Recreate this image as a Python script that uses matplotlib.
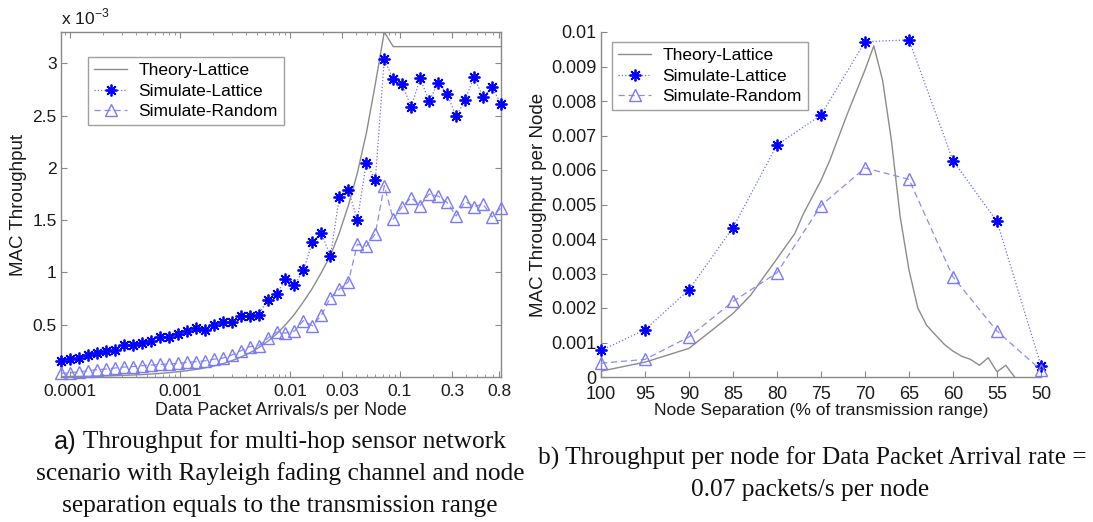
import matplotlib
matplotlib.use("Agg")
from matplotlib import pyplot as plt
from matplotlib.ticker import FixedLocator, FixedFormatter, LogLocator, NullFormatter

plt.rcParams['font.family'] = ['Liberation Sans', 'DejaVu Sans']
plt.rcParams['mathtext.fontset'] = 'custom'
plt.rcParams['mathtext.rm'] = 'Liberation Sans'

# ---- data, left panel (throughput in units of 1e-3) ----
arrival = [8.30e-5, 1.002e-4, 1.209e-4, 1.459e-4, 1.760e-4, 2.125e-4, 2.564e-4, 3.094e-4,
           3.734e-4, 4.506e-4, 5.437e-4, 6.563e-4, 7.920e-4, 9.557e-4, 1.153e-3, 1.392e-3,
           1.680e-3, 2.027e-3, 2.446e-3, 2.953e-3, 3.563e-3, 4.300e-3, 5.190e-3, 6.262e-3,
           7.557e-3, 9.120e-3, 1.1006e-2, 1.3282e-2, 1.603e-2, 1.934e-2, 2.334e-2, 2.817e-2,
           3.400e-2, 4.102e-2, 4.951e-2, 5.975e-2, 7.211e-2, 8.701e-2, 0.1050, 0.1267,
           0.1529, 0.1845, 0.2227, 0.2688, 0.3243, 0.3914, 0.4724, 0.5701, 0.6880, 0.8302]

theory_a = [0.004, 0.005, 0.006, 0.007, 0.009, 0.011, 0.013, 0.016, 0.019, 0.023,
            0.028, 0.034, 0.041, 0.050, 0.060, 0.072, 0.087, 0.105, 0.127, 0.155,
            0.19, 0.23, 0.28, 0.34, 0.41, 0.50, 0.60, 0.72, 0.85, 1.00,
            1.16, 1.38, 1.64, 1.95, 2.33, 2.80, 3.30, 3.16, 3.16, 3.16,
            3.16, 3.16, 3.16, 3.16, 3.16, 3.16, 3.16, 3.16, 3.16, 3.16]

sim_lattice_a = [0.152, 0.168, 0.184, 0.206, 0.231, 0.253, 0.263, 0.304, 0.304, 0.326,
                 0.348, 0.38, 0.38, 0.41, 0.437, 0.468, 0.446, 0.50, 0.522, 0.522,
                 0.579, 0.579, 0.595, 0.737, 0.791, 0.934, 0.88, 1.022, 1.291, 1.377,
                 1.155, 1.718, 1.788, 1.503, 2.05, 1.883, 3.038, 2.848, 2.80, 2.582,
                 2.858, 2.636, 2.816, 2.706, 2.494, 2.646, 2.873, 2.674, 2.772, 2.614]

sim_random_a = [0.035, 0.04, 0.05, 0.06, 0.07, 0.076, 0.086, 0.095, 0.10, 0.108,
                0.114, 0.12, 0.124, 0.13, 0.14, 0.146, 0.155, 0.17, 0.18, 0.21,
                0.25, 0.29, 0.30, 0.37, 0.43, 0.42, 0.44, 0.54, 0.49, 0.59,
                0.76, 0.84, 0.91, 1.27, 1.25, 1.37, 1.83, 1.51, 1.63, 1.715,
                1.64, 1.75, 1.73, 1.67, 1.54, 1.68, 1.63, 1.655, 1.53, 1.62]

x_ticks_a = [0.0001, 0.001, 0.01, 0.03, 0.1, 0.3, 0.8]
x_labels_a = ['0.0001', '0.001', '0.01', '0.03', '0.1', '0.3', '0.8']
y_ticks_a = [0.5, 1, 1.5, 2, 2.5, 3]
y_labels_a = ['0.5', '1', '1.5', '2', '2.5', '3']

# ---- data, right panel ----
separation = [100, 95, 90, 85, 80, 75, 70, 65, 60, 55, 50]
sim_lattice_b = [0.00077, 0.00137, 0.00253, 0.00433, 0.00673, 0.00759,
                 0.00972, 0.00977, 0.00627, 0.00451, 0.00033]
sim_random_b = [0.00040, 0.00051, 0.00116, 0.00219, 0.00302, 0.00497,
                0.00606, 0.00573, 0.00290, 0.00133, 0.00020]

sep_theory = [100, 95, 90, 85, 83, 80, 78, 77, 75, 74, 72, 70, 69, 68, 67, 66,
              65, 64, 63, 62, 61, 60, 59, 58, 57, 56, 55, 54, 53]
theory_b = [0.00017, 0.00043, 0.00083, 0.00184, 0.00237, 0.00343, 0.00415, 0.00473,
            0.0057, 0.00628, 0.00763, 0.0089, 0.0096, 0.0086, 0.00686, 0.00464,
            0.0031, 0.0020, 0.0015, 0.00122, 0.00095, 0.00075, 0.0006, 0.00051,
            0.00034, 0.00056, 0.00015, 0.00034, 0.0]

x_ticks_b = [100, 95, 90, 85, 80, 75, 70, 65, 60, 55, 50]
y_ticks_b = [0, 0.001, 0.002, 0.003, 0.004, 0.005, 0.006, 0.007, 0.008, 0.009, 0.01]
y_labels_b = ['0', '0.001', '0.002', '0.003', '0.004', '0.005', '0.006',
              '0.007', '0.008', '0.009', '0.01']

series_names = ['Theory-Lattice', 'Simulate-Lattice', 'Simulate-Random']

GRAY = '#8c8c8c'
AXC = '#888888'
TXT = '#1a1a1a'
STAR = (8, 2, 0)

W, H = 1093, 522
fig = plt.figure(figsize=(W / 100, H / 100), dpi=100)
fig.patch.set_facecolor('white')


def style(ax, size, xpad):
    for s in ax.spines.values():
        s.set_color(AXC)
        s.set_linewidth(1.0)
    ax.tick_params(which='both', direction='in', colors=AXC, labelcolor=TXT,
                   labelsize=size)
    ax.tick_params(axis='x', which='both', pad=xpad)
    ax.tick_params(axis='y', which='both', pad=3)
    ax.tick_params(which='major', length=4)
    ax.tick_params(which='minor', length=2.5)


def draw_series(ax, x_t, y_t, x_s, y_l, y_r):
    ax.plot(x_t, y_t, color=GRAY, lw=1.0, label=series_names[0], clip_on=True)
    ax.plot(x_s, y_l, color='#6b6bff', lw=0.9, ls=':', marker=STAR, ms=8.5,
            mec='#0000ff', mew=1.3, label=series_names[1], clip_on=False, zorder=3)
    ax.plot(x_s, y_r, color='#8a8aff', lw=0.9, ls=(0, (5, 3)), marker='^', ms=9,
            mfc='none', mec='#7a7aff', mew=1.0, label=series_names[2],
            clip_on=False, zorder=3)


def add_legend(ax, x, y):
    leg = ax.legend(loc='upper left', bbox_to_anchor=(x / W, 1 - y / H),
                    bbox_transform=fig.transFigure, fontsize=12.5, frameon=True,
                    fancybox=False, borderpad=0.35, labelspacing=0.3,
                    handlelength=1.9, handletextpad=0.65, borderaxespad=0)
    leg.get_frame().set_edgecolor(AXC)
    leg.get_frame().set_linewidth(1.0)
    return leg


# ---- left panel ----
axa = fig.add_axes([61 / W, 1 - 377 / H, 440 / W, 345 / H])
draw_series(axa, arrival, theory_a, arrival, sim_lattice_a, sim_random_a)
axa.set_xscale('log')
axa.set_xlim(arrival[0], arrival[-1])
axa.set_ylim(0, 3.3)
axa.xaxis.set_major_locator(FixedLocator(x_ticks_a))
axa.xaxis.set_major_formatter(FixedFormatter(x_labels_a))
axa.xaxis.set_minor_locator(LogLocator(base=10, subs=[2, 3, 4, 5, 6, 7, 8, 9], numticks=20))
axa.xaxis.set_minor_formatter(NullFormatter())
axa.yaxis.set_major_locator(FixedLocator(y_ticks_a))
axa.yaxis.set_major_formatter(FixedFormatter(y_labels_a))
style(axa, 12.5, 5)
axa.tick_params(which='both', top=True, right=True)
axa.set_xlabel('Data Packet Arrivals/s per Node', fontsize=12.8, color=TXT)
axa.xaxis.set_label_coords(0.5, -0.073)
axa.set_ylabel('MAC Throughput', fontsize=13.5, color=TXT)
axa.yaxis.set_label_coords(-0.077, 0.5)
axa.text(0.0, 1.012, r'x 10$^{-3}$', transform=axa.transAxes, fontsize=12.5,
         color=TXT, ha='left', va='bottom')
add_legend(axa, 88, 57)

# ---- right panel ----
axb = fig.add_axes([601 / W, 1 - 377 / H, 440 / W, 345 / H])
draw_series(axb, sep_theory, theory_b, separation, sim_lattice_b, sim_random_b)
axb.set_xlim(100, 50)
axb.set_ylim(0, 0.01)
axb.xaxis.set_major_locator(FixedLocator(x_ticks_b))
axb.xaxis.set_major_formatter(FixedFormatter([str(v) for v in x_ticks_b]))
axb.yaxis.set_major_locator(FixedLocator(y_ticks_b))
axb.yaxis.set_major_formatter(FixedFormatter(y_labels_b))
style(axb, 13, 6.5)
axb.spines['top'].set_visible(False)
axb.spines['right'].set_visible(False)
axb.set_xlabel('Node Separation (% of transmission range)', fontsize=12.5, color=TXT)
axb.xaxis.set_label_coords(0.5, -0.075)
axb.set_ylabel('MAC Throughput per Node', fontsize=13.5, color=TXT)
axb.yaxis.set_label_coords(-0.123, 0.5)
add_legend(axb, 612, 42)

# ---- captions ----
serif = ['Liberation Serif', 'DejaVu Serif']
cap_size = 18.3
cap_col = '#111111'
fig.text(280 / W, 1 - 474 / H, 'scenario with Rayleigh fading channel and node',
         family=serif, fontsize=cap_size, ha='center', va='center', color=cap_col)
fig.text(280 / W, 1 - 506 / H, 'separation equals to the transmission range',
         family=serif, fontsize=cap_size, ha='center', va='center', color=cap_col)
fig.text(812 / W, 1 - 458 / H, 'b) Throughput per node for Data Packet Arrival rate =',
         family=serif, fontsize=cap_size, ha='center', va='center', color=cap_col)
fig.text(810 / W, 1 - 490 / H, '0.07 packets/s per node',
         family=serif, fontsize=cap_size, ha='center', va='center', color=cap_col)

# first caption line: "a)" is set in the sans font, the rest in serif
ta = fig.text(0, 1 - 442 / H, 'a)', fontsize=cap_size, ha='left', va='center',
              color=cap_col)
tb = fig.text(0, 1 - 442 / H, ' Throughput for multi-hop sensor network', family=serif,
              fontsize=cap_size, ha='left', va='center', color=cap_col)
fig.canvas.draw()
r = fig.canvas.get_renderer()
wa = ta.get_window_extent(r).width
wb = tb.get_window_extent(r).width
x0 = 280 - (wa + wb) / 2
ta.set_x(x0 / W)
tb.set_x((x0 + wa) / W)

fig.savefig('out.png', dpi=100, facecolor='white')
